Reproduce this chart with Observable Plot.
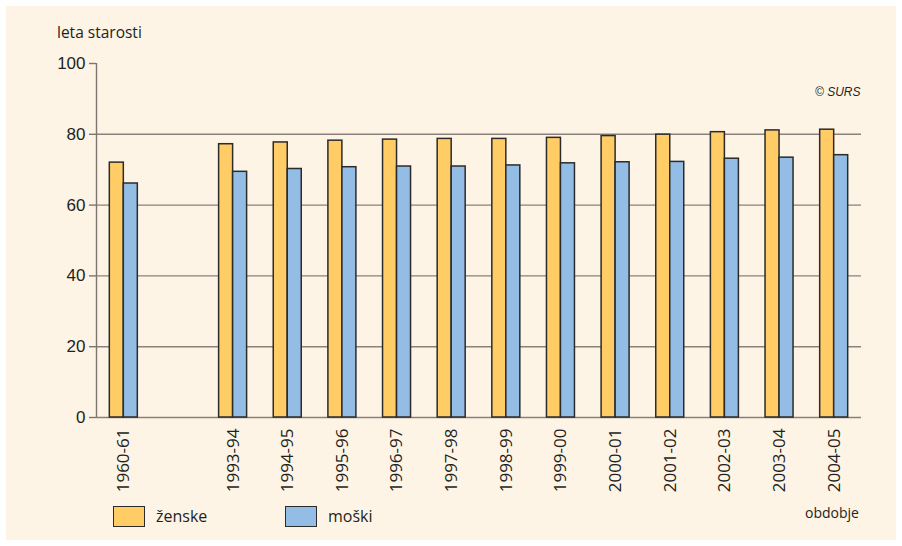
<!DOCTYPE html>
<html>
<head>
<meta charset="utf-8">
<script src="https://cdn.jsdelivr.net/npm/d3@7"></script>
<script src="https://cdn.jsdelivr.net/npm/@observablehq/plot@0.6"></script>
<style>
  html, body { margin: 0; padding: 0; background: #ffffff; }
  #wrap { position: relative; width: 902px; height: 546px; overflow: hidden; }
  #panel { position: absolute; left: 6px; top: 6px; width: 890px; height: 534px; background: #fdf4e5; }
  #chart { position: absolute; left: 0; top: 0; }
  .lbl { position: absolute; font-family: "Open Sans", sans-serif; color: #231f20; white-space: nowrap; }
  .sw { position: absolute; width: 32px; height: 21px; border: 1.5px solid #2b2b2b; box-sizing: border-box; }
</style>
</head>
<body>
<div id="wrap">
  <div id="panel"></div>
  <div id="chart"></div>
  <div class="lbl" style="left:57px; top:21px; font-size:15.5px;">leta starosti</div>
  <div class="lbl" style="left:815px; top:85px; font-size:12px; font-style:italic; font-family:'Liberation Sans', Arial, sans-serif;">© SURS</div>
  <div class="sw" style="left:113px; top:506px; background:#ffcc66;"></div>
  <div class="lbl" style="left:156px; top:505px; font-size:16px;">ženske</div>
  <div class="sw" style="left:285px; top:506px; background:#93bde5;"></div>
  <div class="lbl" style="left:328px; top:505px; font-size:16px;">moški</div>
  <div class="lbl" style="left:805px; top:503px; font-size:14px;">obdobje</div>
</div>
<script>
// Data
const periods = ["1960-61","1993-94","1994-95","1995-96","1996-97","1997-98","1998-99","1999-00","2000-01","2001-02","2002-03","2003-04","2004-05"];
const zenske = [72.0, 77.2, 77.7, 78.2, 78.5, 78.7, 78.7, 79.0, 79.5, 79.9, 80.6, 81.1, 81.3];
const moski  = [66.1, 69.4, 70.2, 70.7, 70.9, 70.9, 71.2, 71.8, 72.1, 72.2, 73.1, 73.4, 74.1];
const yTicks = [0, 20, 40, 60, 80, 100];
const gridValues = [0, 20, 40, 60, 80];
const xDomain = [periods[0], " ", ...periods.slice(1)];

const rowsZ = periods.map((p, i) => ({period: p, value: zenske[i]}));
const rowsM = periods.map((p, i) => ({period: p, value: moski[i]}));

const W = 902, H = 546, mL = 96, mR = 41, mT = 63, mB = 129;
const step = (W - mL - mR) / xDomain.length;
const barW = 14;

const plot = Plot.plot({
  width: W,
  height: H,
  marginLeft: mL,
  marginRight: mR,
  marginTop: mT,
  marginBottom: mB,
  style: {background: "transparent", overflow: "visible"},
  x: {domain: xDomain, padding: 0, round: false, axis: null},
  y: {domain: [0, 100], axis: null},
  marks: [
    Plot.ruleY(gridValues, {stroke: "#8a817b", strokeWidth: 1.4}),
    Plot.ruleX([xDomain[0]], {y1: 0, y2: 100, dx: -step / 2, stroke: "#7d746e", strokeWidth: 1.4}),
    Plot.barY(rowsZ, {x: "period", y: "value", fill: "#ffcc66", stroke: "#2b2b2b", strokeWidth: 1.5,
      insetLeft: step / 2 - barW, insetRight: step / 2}),
    Plot.barY(rowsM, {x: "period", y: "value", fill: "#93bde5", stroke: "#2b2b2b", strokeWidth: 1.5,
      insetLeft: step / 2, insetRight: step / 2 - barW}),
    Plot.axisY({ticks: yTicks, tickSize: 7, tickPadding: 4, stroke: "#7d746e", strokeWidth: 1.4,
      fontSize: 17, fontFamily: "'Liberation Sans', Arial, sans-serif", color: "#231f20", label: null}),
    Plot.axisX({tickSize: 0, tickPadding: 11, tickRotate: -90, fontSize: 17,
      fontFamily: "'Open Sans', sans-serif", color: "#231f20", label: null})
  ]
});
document.getElementById("chart").appendChild(plot);
</script>
</body>
</html>
